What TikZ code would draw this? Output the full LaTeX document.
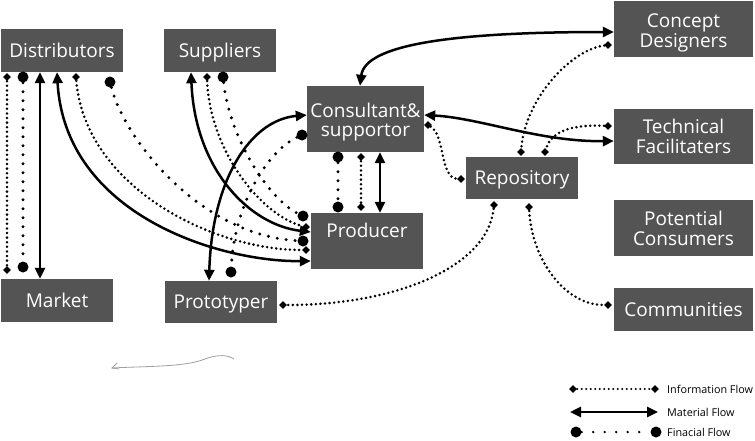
\documentclass[tikz,border=0pt]{standalone}
\usepackage{fontspec}
\setmainfont{Open Sans}
\usetikzlibrary{arrows.meta,shapes.geometric}
\definecolor{boxgray}{RGB}{84,84,84}
\begin{document}
\begin{tikzpicture}[x=1pt,y=-1pt,
  box/.style={fill=boxgray, text=white, inner sep=0pt, align=center,
    font=\fontsize{19}{19}\selectfont},
  boxtext/.style={text=white, align=center, inner sep=0pt},
  one/.style={text height=13.6pt, text depth=0pt},
  info/.style={line width=2.8pt, dash pattern=on 0pt off 4.6pt, line cap=round},
  fin/.style={line width=3.3pt, dash pattern=on 0pt off 9pt, line cap=round},
  mat/.style={line width=2.5pt, {Triangle[length=11pt,width=10pt]}-{Triangle[length=11pt,width=10pt]}},
  dia/.style={diamond, fill=black, inner sep=0pt, minimum size=8pt},
  dot/.style={circle, fill=black, inner sep=0pt, minimum size=11pt},
  legtext/.style={anchor=west, inner sep=0pt, font=\fontsize{10.8}{10.8}\selectfont}]
\fill[white] (0,0) rectangle (755,440);
\useasboundingbox (0,0) rectangle (755,440);

% boxes
\node[box, one, minimum width=122pt, minimum height=43pt] (dist) at (62,50.5) {Distributors};
\node[box, one, minimum width=112pt, minimum height=43pt] (sup) at (220,50.5) {Suppliers};
\node[box, one, minimum width=112pt, minimum height=43pt] (market) at (57,300.5) {Market};
\node[box, one, minimum width=112pt, minimum height=42pt] (proto) at (221,302) {Prototyper};
\node[box, minimum width=117pt, minimum height=66pt,
  label={[boxtext, font=\fontsize{19}{18.5}\selectfont, yshift=-3pt]center:Consultant\&\\supportor}] (cons) at (365.5,119) {};
\node[box, minimum width=112pt, minimum height=56pt, text height=14pt, text depth=22pt] (prod) at (367,241) {Producer};
\node[box, one, minimum width=112pt, minimum height=42pt] (repo) at (522,178) {Repository};
\node[box, minimum width=139pt, minimum height=56pt,
  label={[boxtext, font=\fontsize{19}{20}\selectfont, yshift=-4pt]center:Concept\\Designers}] (concept) at (683.5,29) {};
\node[box, minimum width=139pt, minimum height=55pt, font=\fontsize{19}{20}\selectfont] (tech) at (683.5,136.5) {Technical\\Facilitaters};
\node[box, minimum width=139pt, minimum height=56pt, font=\fontsize{19}{20}\selectfont] (pot) at (683.5,228) {Potential\\Consumers};
\node[box, one, minimum width=139pt, minimum height=43pt] (comm) at (683.5,309.5) {Communities};

% information markers
\node[dia] (i1a) at (7,77) {};    \node[dia] (i1b) at (7,270) {};
\node[dia] (i2a) at (76,77) {};   \node[dia] (i2b) at (306,250) {};
\node[dia] (i3a) at (207,77) {};  \node[dia] (i3b) at (306,227) {};
\node[dia] (i4a) at (361,157) {}; \node[dia] (i4b) at (361,207) {};
\node[dia] (i5a) at (428,125) {}; \node[dia] (i5b) at (461,179) {};
\node[dia] (i6a) at (608,45) {};  \node[dia] (i6b) at (521,152) {};
\node[dia] (i7a) at (608,126) {}; \node[dia] (i7b) at (545,152) {};
\node[dia] (i8a) at (494,205) {}; \node[dia] (i8b) at (283,305) {};
\node[dia] (i9a) at (529,207) {}; \node[dia] (i9b) at (608,305) {};

% financial markers
\node[dot] (f1a) at (23,77) {};   \node[dot] (f1b) at (23,267) {};
\node[dot] (f2a) at (110,82) {};  \node[dot] (f2b) at (303,241) {};
\node[dot] (f3a) at (223,77) {};  \node[dot] (f3b) at (303,216) {};
\node[dot] (f4a) at (302,135) {}; \node[dot] (f4b) at (231,272) {};
\node[dot] (f5a) at (338,157) {}; \node[dot] (f5b) at (338,207) {};

% information flows
\draw[info] (i1a) -- (i1b);
\draw[info] (i2a) .. controls (85,185) and (210,250) .. (i2b);
\draw[info] (i3a) .. controls (210,150) and (260,215) .. (i3b);
\draw[info] (i4a) -- (i4b);
\draw[info] (i5a) .. controls (445,135) and (440,178) .. (i5b);
\draw[info] (i6a) .. controls (570,50) and (525,100) .. (i6b);
\draw[info] (i7a) .. controls (565,124) and (550,135) .. (i7b);
\draw[info] (i8a) .. controls (488,265) and (400,305) .. (i8b);
\draw[info] (i9a) .. controls (532,260) and (565,305) .. (i9b);

% financial flows
\draw[fin] (f1a) -- (f1b);
\draw[fin] (f2a) .. controls (125,140) and (200,235) .. (f2b);
\draw[fin] (f3a) .. controls (230,140) and (270,200) .. (f3b);
\draw[fin] (f4a) .. controls (270,150) and (235,200) .. (f4b);
\draw[fin] (f5a) -- (f5b);

% material flows
\draw[mat] (dist.south -| 40,0) -- (market.north -| 40,0);
\draw[mat] (dist.south -| 57,0) .. controls (65,215) and (220,262) .. (prod.west |- 0,261);
\draw[mat] (sup.south -| 191,0) .. controls (195,170) and (250,225) .. (prod.west |- 0,232);
\draw[mat] (proto.north -| 209,0) .. controls (212,180) and (250,120) .. (cons.west |- 0,115);
\draw[mat] (cons.south -| 380,0) -- (prod.north -| 380,0);
\draw[mat] (cons.north -| 360,0) .. controls (365,45) and (450,32) .. (concept.west |- 0,32);
\draw[mat] (cons.east |- 0,115) .. controls (480,118) and (540,142) .. (tech.west |- 0,141);

% stray stroke
\draw[gray!75, line width=0.8pt] (117,363) -- (112,368) -- (119,369);
\draw[gray!75, line width=0.8pt] (112,368) .. controls (150,366) and (185,367) .. (205,359) .. controls (218,354) and (228,355) .. (234,359);

% legend
\node[dia] (li1) at (573,389) {}; \node[dia] (li2) at (655,389) {};
\draw[info, line width=2.2pt, dash pattern=on 0pt off 4.5pt] (li1) -- (li2);
\node[legtext] (lt1) at (667,389) {Information Flow};
\coordinate (lm1) at (570,412); \coordinate (lm2) at (658,412);
\draw[mat] (lm1) -- (lm2);
\node[legtext] (lt2) at (667,412) {Material Flow};
\node[dot] (lf1) at (576,432) {}; \node[dot] (lf2) at (656,432) {};
\draw[fin, line width=2.6pt, dash pattern=on 0pt off 11.5pt] (lf1) -- (lf2);
\node[legtext] (lt3) at (667,432) {Finacial Flow};
\end{tikzpicture}
\end{document}
